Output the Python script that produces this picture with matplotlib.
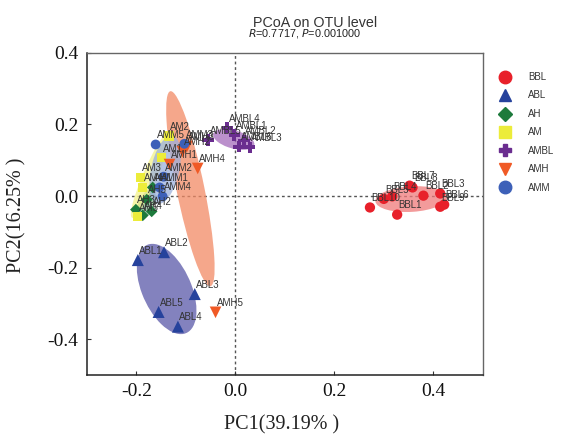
import numpy as np
import matplotlib.pyplot as plt
from matplotlib.patches import Ellipse
from matplotlib.lines import Line2D

# sample scores on the first two principal coordinates
groups = ['BBL', 'ABL', 'AH', 'AM', 'AMBL', 'AMH', 'AMM']

bbl_x = [0.327, 0.380, 0.414, 0.317, 0.300, 0.422, 0.352, 0.358, 0.414, 0.272]
bbl_y = [-0.052, 0.001, 0.007, -0.001, -0.008, -0.024, 0.029, 0.024, -0.030, -0.032]
abl_x = [-0.197, -0.144, -0.082, -0.116, -0.155]
abl_y = [-0.179, -0.157, -0.274, -0.365, -0.324]
ah_x = [-0.167, -0.169, -0.201, -0.187, -0.179]
ah_y = [0.024, -0.043, -0.038, -0.054, -0.010]
am_x = [-0.149, -0.134, -0.191, -0.187, -0.197]
am_y = [0.107, 0.168, 0.052, 0.024, -0.058]
ambl_x = [-0.002, 0.017, 0.029, -0.016, -0.055, 0.008]
ambl_y = [0.171, 0.155, 0.136, 0.191, 0.157, 0.138]
amh_x = [-0.133, -0.107, -0.098, -0.076, -0.040]
amh_y = [0.088, 0.124, 0.138, 0.077, -0.325]
amm_x = [-0.153, -0.145, -0.103, -0.147, -0.161]
amm_y = [0.024, 0.054, 0.146, -0.001, 0.144]

xs = [bbl_x, abl_x, ah_x, am_x, ambl_x, amh_x, amm_x]
ys = [bbl_y, abl_y, ah_y, am_y, ambl_y, amh_y, amm_y]

pc1_label = 'PC1(39.19% )'
pc2_label = 'PC2(16.25% )'
r_val = 0.7717
p_val = 0.001

colors = ['#e8202a', '#26429c', '#1d7a3c', '#ecec3a', '#6a2d8f', '#f05a26', '#3d60b8']
fills = ['#ef7a7a', '#5a58a8', '#7fb08a', '#f4f28a', '#a56bbb', '#f28a65', '#9cb0dc']
markers = ['o', '^', 'D', 's', 'P', 'v', 'o']
sizes = [55, 75, 35, 45, 70, 70, 50]

plt.rcParams['font.family'] = ['Liberation Sans', 'DejaVu Sans']
serif = 'Liberation Serif'

fig = plt.figure(figsize=(5.64, 4.37), dpi=100)
ax = fig.add_axes([0.154, 0.142, 0.702, 0.737])


def conf_ellipse(x, y, k=1.4, **kw):
    x = np.asarray(x)
    y = np.asarray(y)
    cov = np.cov(x, y)
    vals, vecs = np.linalg.eigh(cov)
    order = vals.argsort()[::-1]
    vals, vecs = vals[order], vecs[:, order]
    angle = np.degrees(np.arctan2(vecs[1, 0], vecs[0, 0]))
    w, h = 2 * k * np.sqrt(vals)
    return Ellipse((x.mean(), y.mean()), w, h, angle=angle, **kw)


# ellipses underneath the points
for g, x, y, fc in zip(groups, xs, ys, fills):
    ax.add_patch(conf_ellipse(x, y, facecolor=fc, edgecolor='none', alpha=0.75, zorder=1))

ax.axvline(0, color='#555555', ls=(0, (2, 2)), lw=1, zorder=0)
ax.axhline(0, color='#555555', ls=(0, (2, 2)), lw=1, zorder=0)

for g, x, y, c, m, s in zip(groups, xs, ys, colors, markers, sizes):
    ax.scatter(x, y, c=c, marker=m, s=s, edgecolors='none', zorder=3)
    for i, (xi, yi) in enumerate(zip(x, y)):
        ax.annotate(f'{g}{i + 1}', (xi, yi), xytext=(1, 3), textcoords='offset points',
                    ha='left', va='bottom', fontsize=7, color='#333333', zorder=4)

ax.set_xlim(-0.3, 0.5)
ax.set_ylim(-0.5, 0.4)
ax.set_xticks([-0.2, 0.0, 0.2, 0.4])
ax.set_yticks([-0.4, -0.2, 0.0, 0.2, 0.4])
ax.set_xticklabels(['-0.2', '0.0', '0.2', '0.4'], fontfamily=serif, fontsize=14)
ax.set_yticklabels(['-0.4', '-0.2', '0.0', '0.2', '0.4'], fontfamily=serif, fontsize=14)
ax.tick_params(direction='in', length=3, width=0.8, color='#333333', colors='#111111')
ax.tick_params(axis='x', pad=6)
ax.tick_params(axis='y', pad=6)
for sp in ['top', 'right']:
    ax.spines[sp].set_color('#666666')
    ax.spines[sp].set_linewidth(1)
for sp in ['left', 'bottom']:
    ax.spines[sp].set_color('#222222')
    ax.spines[sp].set_linewidth(1.1)

fig.text(282 / 564, 1 - 425 / 437, pc1_label, ha='center', va='center',
         fontfamily=serif, fontsize=14.5, color='#222222')
fig.text(17 / 564, 1 - 215 / 437, pc2_label, ha='center', va='center', rotation=90,
         fontfamily=serif, fontsize=14.5, color='#222222')

fig.text(315 / 564, 1 - 23 / 437, 'PCoA on OTU level', ha='center', va='center',
         fontsize=10.3, color='#333333')
fig.text(305 / 564, 1 - 33 / 437, rf'$\it{{R}}$={r_val:.4f}, $\it{{P}}$={p_val:.6f}',
         ha='center', va='center', fontsize=7.8, color='#222222')

handles = [Line2D([], [], ls='none', marker=m, color=c, markersize=9 if m != 'D' else 7)
           for m, c in zip(markers, colors)]
leg = fig.legend(handles, groups, loc='upper left', bbox_to_anchor=(498 / 564, 1 - 72 / 437),
                 frameon=False, fontsize=7, labelspacing=0.87, handletextpad=1.6,
                 handlelength=1.5, borderaxespad=0, borderpad=0)
for t in leg.get_texts():
    t.set_color('#333333')

fig.savefig('out.png', dpi=100)
